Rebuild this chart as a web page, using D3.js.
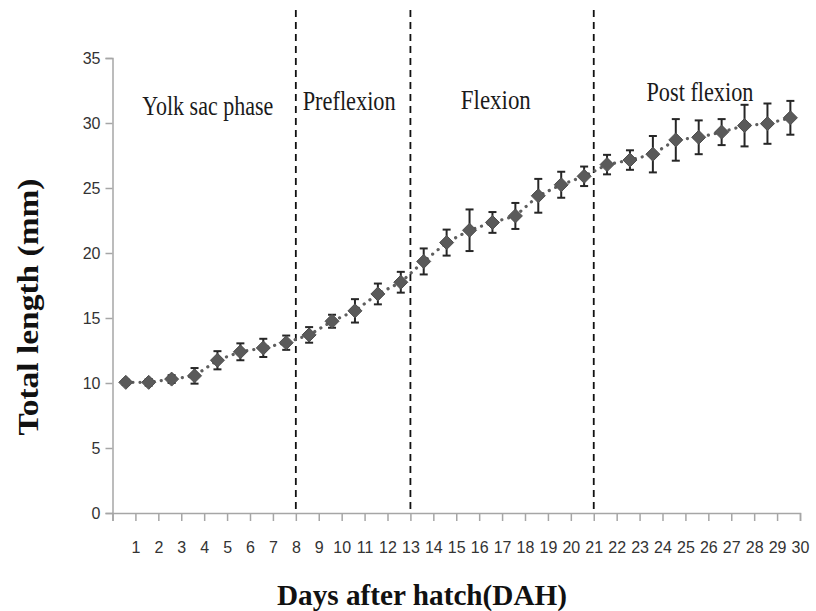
<!DOCTYPE html>
<html>
<head>
<meta charset="utf-8">
<script src="https://cdn.jsdelivr.net/npm/d3@7"></script>
<style>
html,body{margin:0;padding:0;background:#fff;}
svg{display:block;}
</style>
</head>
<body>
<svg id="chart" width="816" height="611"></svg>
<script>
// ---- data ----
const days = d3.range(1, 31);
const meanLength = [10.05,10.05,10.3,10.55,11.75,12.4,12.7,13.1,13.7,14.75,
                    15.55,16.85,17.75,19.35,20.8,21.75,22.35,22.85,24.4,25.25,
                    25.9,26.8,27.15,27.6,28.7,28.9,29.3,29.8,29.95,30.4];
const errLength = [0.2,0.25,0.3,0.6,0.7,0.65,0.7,0.55,0.6,0.5,
                   0.9,0.8,0.8,1.0,1.0,1.6,0.8,1.0,1.3,1.0,
                   0.75,0.75,0.75,1.4,1.6,1.3,1.0,1.6,1.55,1.3];
const yTicks = [0,5,10,15,20,25,30,35];
const xTickLabels = d3.range(1, 31);
const phaseBoundaries = [8, 13, 21];
const phaseNames = ["Yolk sac phase", "Preflexion", "Flexion", "Post flexion"];
const phaseLabelAnchor = [1.3, 8.3, 15.2, 23.3];   // in day units
const phaseLabelY = [30.6, 31.0, 31.1, 31.7];      // in mm units (baseline)
const phaseLabelLen = [131, 93, 70, 107];
const pointOffset = -0.42;

// ---- layout ----
const svg = d3.select("#chart");
const x = d3.scaleLinear().domain([0, 30]).range([112.5, 800]);
const y = d3.scaleLinear().domain([0, 35]).range([513, 58]);

svg.append("rect").attr("width", 816).attr("height", 611).attr("fill", "#fff");

const tickFont = "'Liberation Sans Narrow','Liberation Sans',Arial,sans-serif";

// y axis
const yAxis = d3.axisLeft(y).tickValues(yTicks).tickSize(7).tickPadding(5);
const gy = svg.append("g").attr("transform", `translate(${x(0)},0)`).call(yAxis);
gy.select(".domain").attr("stroke", "#a6a6a6").attr("stroke-width", 1.5);
gy.selectAll(".tick line").attr("stroke", "#a6a6a6").attr("stroke-width", 1.5);
gy.selectAll(".tick text").attr("font-family", tickFont)
  .attr("font-size", 16).attr("fill", "#333");

// x axis
const xAxis = d3.axisBottom(x).tickValues(d3.range(0, 31)).tickSize(8).tickPadding(21)
  .tickFormat(d => d === 0 ? "" : xTickLabels[d - 1]);
const gx = svg.append("g").attr("transform", `translate(0,${y(0)})`).call(xAxis);
gx.select(".domain").attr("stroke", "#a6a6a6").attr("stroke-width", 1.5);
gx.selectAll(".tick line").attr("stroke", "#a6a6a6").attr("stroke-width", 1.5);
gx.selectAll(".tick text").attr("font-family", tickFont)
  .attr("font-size", 16).attr("fill", "#333");

// phase boundary dashed lines
svg.selectAll("line.phase").data(phaseBoundaries).enter().append("line")
  .attr("x1", d => x(d)).attr("x2", d => x(d))
  .attr("y1", 10).attr("y2", y(0))
  .attr("stroke", "#111").attr("stroke-width", 1.8).attr("stroke-dasharray", "7,5");

// phase labels
svg.selectAll("text.phase").data(phaseNames).enter().append("text")
  .attr("x", (d, i) => x(phaseLabelAnchor[i]))
  .attr("y", (d, i) => y(phaseLabelY[i]))
  .attr("font-family", "'Liberation Serif','Times New Roman',serif")
  .attr("font-size", 27).attr("fill", "#1a1a1a")
  .attr("textLength", (d, i) => phaseLabelLen[i])
  .attr("lengthAdjust", "spacingAndGlyphs")
  .text(d => d);

const pts = days.map((d, i) => ({day: d, m: meanLength[i], e: errLength[i]}));
const px = d => x(d.day + pointOffset);

// dotted connecting line
svg.append("path").datum(pts)
  .attr("d", d3.line().x(px).y(d => y(d.m)))
  .attr("fill", "none").attr("stroke", "#5f5f5f").attr("stroke-width", 3.2)
  .attr("stroke-linecap", "round").attr("stroke-dasharray", "0.1,7");

// error bars
const eb = svg.append("g").attr("stroke", "#262626").attr("stroke-width", 2);
eb.selectAll("line.v").data(pts).enter().append("line")
  .attr("x1", px).attr("x2", px)
  .attr("y1", d => y(d.m + d.e)).attr("y2", d => y(d.m - d.e));
eb.selectAll("line.t").data(pts).enter().append("line")
  .attr("x1", d => px(d) - 4).attr("x2", d => px(d) + 4)
  .attr("y1", d => y(d.m + d.e)).attr("y2", d => y(d.m + d.e));
eb.selectAll("line.b").data(pts).enter().append("line")
  .attr("x1", d => px(d) - 4).attr("x2", d => px(d) + 4)
  .attr("y1", d => y(d.m - d.e)).attr("y2", d => y(d.m - d.e));

// diamond markers
const r = 7;
svg.selectAll("path.mk").data(pts).enter().append("path")
  .attr("d", `M0,${-r}L${r},0L0,${r}L${-r},0Z`)
  .attr("transform", d => `translate(${px(d)},${y(d.m)})`)
  .attr("fill", "#5a5a5a").attr("stroke", "#4d4d4d").attr("stroke-width", 1);

// axis titles
svg.append("text")
  .attr("transform", `translate(38,307) rotate(-90)`)
  .attr("text-anchor", "middle")
  .attr("font-family", "'Liberation Serif','Times New Roman',serif")
  .attr("font-weight", "bold").attr("font-size", 29).attr("fill", "#111")
  .attr("textLength", 257).attr("lengthAdjust", "spacingAndGlyphs")
  .text("Total length (mm)");

svg.append("text")
  .attr("x", 422).attr("y", 605)
  .attr("text-anchor", "middle")
  .attr("font-family", "'Liberation Serif','Times New Roman',serif")
  .attr("font-weight", "bold").attr("font-size", 29).attr("fill", "#111")
  .attr("textLength", 290).attr("lengthAdjust", "spacingAndGlyphs")
  .text("Days after hatch(DAH)");
</script>
</body>
</html>
